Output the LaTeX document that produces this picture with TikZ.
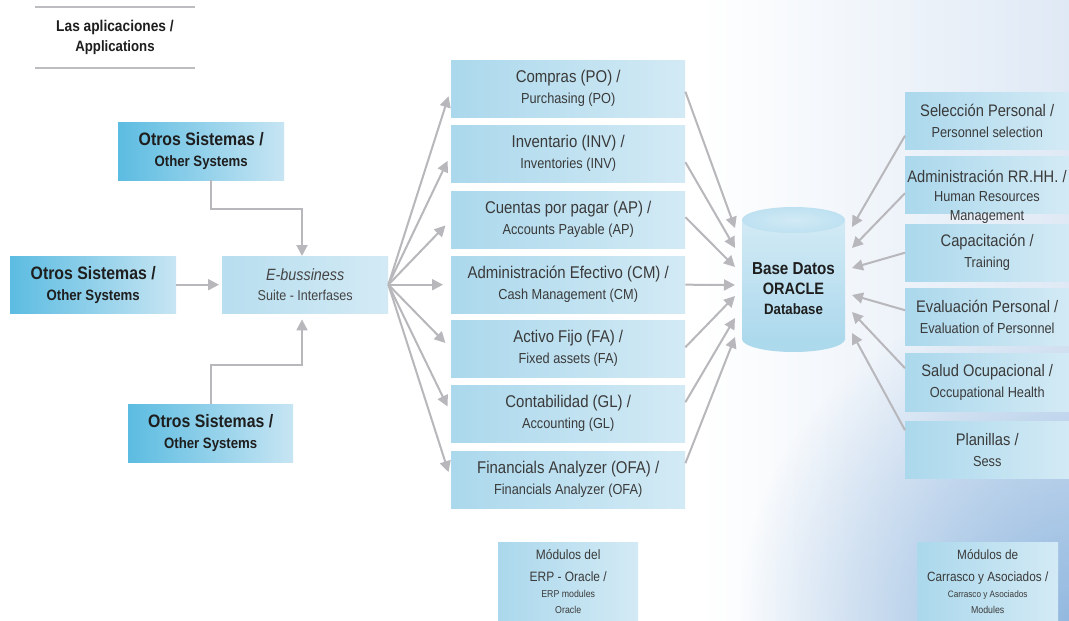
\documentclass[tikz,border=0pt]{standalone}
\usepackage{fontspec}
\setmainfont{Liberation Sans}[FakeStretch=0.88]
\usetikzlibrary{arrows.meta,fadings}
\definecolor{arrowgray}{HTML}{B7B7BC}
\definecolor{boxL}{HTML}{ABD8EC}
\definecolor{boxR}{HTML}{D3EAF5}
\definecolor{othL}{HTML}{5CBCE1}
\definecolor{othR}{HTML}{C7E5F3}
\definecolor{txt}{HTML}{3A3A3A}
\definecolor{txtb}{HTML}{1E1E1E}
\definecolor{bgR}{HTML}{DFE9F5}
\definecolor{bgC}{HTML}{93B9E0}
\definecolor{dbTop}{HTML}{D2EAF5}
\definecolor{dbBot}{HTML}{ADD9ED}
\definecolor{dbCap}{HTML}{BEE1F1}
\definecolor{rulegray}{HTML}{BDBDC1}
\newcommand\myfs[2]{\fontsize{#1}{#2}\selectfont}
\tikzfading[name=cornerfade, inner color=transparent!0, outer color=transparent!100]
\begin{document}
\begin{tikzpicture}[x=1pt,y=-1pt,
  mbox/.style={anchor=north west, inner sep=0pt, minimum width=234pt, minimum height=57pt, left color=boxL, right color=boxR, align=center, text=txt, font=\myfs{17}{21}},
  rbox/.style={mbox, minimum width=164pt, font=\myfs{16.7}{21}},
  obox/.style={anchor=north west, inner sep=0pt, minimum width=166pt, minimum height=58pt, left color=othL, right color=othR, align=center, text=txtb, font=\bfseries\myfs{18}{21}},
  arr/.style={draw=arrowgray, line width=2pt, -{Triangle[length=11pt,width=11pt]}},
  rule/.style={draw=rulegray, line width=2.2pt},
  plain/.style={inner sep=0pt, align=center},
]
\useasboundingbox (0,0) rectangle (1069,621);
% background
\fill[white] (0,0) rectangle (1069,621);
\shade[left color=white, right color=bgR] (700,0) rectangle (1069,621);
\begin{scope}
  \clip (0,0) rectangle (1069,621);
  \fill[bgC, path fading=cornerfade] (1069,621) circle[radius=330];
\end{scope}

% header
\coordinate (hl1) at (35,7);
\coordinate (hr1) at (195,7);
\coordinate (hl2) at (35,68);
\coordinate (hr2) at (195,68);
\draw[rule] (hl1) -- (hr1);
\draw[rule] (hl2) -- (hr2);
\node[plain, text=txtb, font=\bfseries\myfs{15.6}{20}] (head) at (115,37) {Las aplicaciones /\\\myfs{15}{20}Applications};

% other systems
\node[obox] (otop) at (118,122) {Otros Sistemas /\\\myfs{15}{21}Other Systems};
\node[obox, minimum height=57pt] (oleft) at (10,256) {Otros Sistemas /\\\myfs{15}{21}Other Systems};
\node[obox, minimum width=165pt] (obot) at (128,404) {Otros Sistemas /\\\myfs{15}{21}Other Systems};
\node[mbox, minimum width=166pt, left color=boxL!85!white, right color=boxR, text=txt!95!white, font=\myfs{16.3}{20}] (eb) at (222,256) {\itshape E-bussiness\\\myfs{14.3}{20}Suite - Interfases};

% middle modules
\node[mbox] (m1) at (451,60) {Compras (PO) /\\\myfs{14.5}{21}Purchasing (PO)};
\node[mbox] (m2) at (451,125) {Inventario (INV) /\\\myfs{14.5}{21}Inventories (INV)};
\node[mbox] (m3) at (451,191) {Cuentas por pagar (AP) /\\\myfs{14.5}{21}Accounts Payable (AP)};
\node[mbox] (m4) at (451,256) {Administración Efectivo (CM) /\\\myfs{14.5}{21}Cash Management (CM)};
\node[mbox] (m5) at (451,320) {Activo Fijo (FA) /\\\myfs{14.5}{21}Fixed assets (FA)};
\node[mbox] (m6) at (451,385) {Contabilidad (GL) /\\\myfs{14.5}{21}Accounting (GL)};
\node[mbox] (m7) at (451,451) {Financials Analyzer (OFA) /\\\myfs{14.5}{21}Financials Analyzer (OFA)};

% right modules
\node[rbox] (r1) at (905,92) {Selección Personal /\\\myfs{14.5}{21}Personnel selection};
\node[rbox] (r2) at (905,156) {};
\node[plain, text=txt, font=\myfs{16.7}{19}] (r2t) at (987,197) {Administración RR.HH. /\\\myfs{14.5}{19}Human Resources\\\myfs{14.5}{19}Management};
\node[rbox] (r3) at (905,224) {Capacitación /\\\myfs{14.5}{21}Training};
\node[rbox] (r4) at (905,288) {Evaluación Personal /\\\myfs{14.5}{21}Evaluation of Personnel};
\node[rbox, minimum height=58pt] (r5) at (905,353) {Salud Ocupacional /\\\myfs{14.5}{21}Occupational Health};
\node[rbox] (r6) at (905,421) {Planillas /\\\myfs{14.5}{21}Sess};

% legend boxes
\node[mbox, minimum width=140pt, minimum height=78pt, font=\myfs{13.6}{16}] (erp) at (498,542) {Módulos del\\[6pt]ERP - Oracle /\\\myfs{10}{16}ERP modules\\\myfs{10}{16}Oracle};
\node[mbox, minimum width=141pt, minimum height=78pt, font=\myfs{13.4}{16}] (car) at (917,542) {Módulos de\\[6pt]Carrasco y Asociados /\\\myfs{9.3}{16}Carrasco y Asociados\\\myfs{10}{16}Modules};

% database cylinder
\fill[dbBot] (793.5,339) ellipse[x radius=51.5, y radius=13];
\shade[top color=dbTop, bottom color=dbBot] (742,220) rectangle (845,339);
\shade[inner color=dbCap!70!white, outer color=dbCap] (793.5,220) ellipse[x radius=51.5, y radius=13];
\node[plain, text=txtb, font=\bfseries\myfs{17.3}{20}] (db) at (793.5,288.5) {Base Datos\\\myfs{16.5}{20}ORACLE\\\myfs{15}{20}Database};

% arrow tip coordinates at the database
\coordinate (dl1) at (735,228);
\coordinate (dl2) at (735,248);
\coordinate (dl3) at (735,267);
\coordinate (dl4) at (735,285);
\coordinate (dl5) at (735,296);
\coordinate (dl6) at (735,318);
\coordinate (dl7) at (735,337);
\coordinate (dr1) at (852,227);
\coordinate (dr2) at (852,248);
\coordinate (dr3) at (852,268);
\coordinate (dr4) at (852,295);
\coordinate (dr5) at (852,312);
\coordinate (dr6) at (852,333);

% connectors into E-business
\coordinate (bend1) at (302,209);
\coordinate (bend2) at (302,365);
\draw[arr] ([xshift=10pt]otop.south) |- (bend1) -- (eb.north -| bend1);
\draw[arr, shorten >=6pt] (obot.north) |- (bend2) -- (eb.south -| bend2);
\draw[arr, shorten >=3pt] (oleft.east) -- (eb.west);

% fan out
\foreach \i in {1,...,7}{
  \draw[arr, shorten >=8pt] (eb.east) -- (m\i.west);
}

% modules to database
\draw[arr] ([yshift=-3pt]m1.east) -- (dl1);
\draw[arr] ([yshift=-8.5pt]m2.east) -- (dl2);
\draw[arr] ([yshift=2.5pt]m3.east) -- (dl3);
\draw[arr] (m4.east) -- (dl4);
\draw[arr] ([yshift=1.5pt]m5.east) -- (dl5);
\draw[arr] ([yshift=11.5pt]m6.east) -- (dl6);
\draw[arr] ([yshift=16.5pt]m7.east) -- (dl7);

\draw[arr] ([yshift=-15pt]r1.west) -- (dr1);
\draw[arr] ([yshift=-8.5pt]r2.west) -- (dr2);
\draw[arr] (r3.west) -- (dr3);
\draw[arr] ([yshift=6.5pt]r4.west) -- (dr4);
\draw[arr] ([yshift=14pt]r5.west) -- (dr5);
\draw[arr] ([yshift=19.5pt]r6.west) -- (dr6);
\end{tikzpicture}
\end{document}
